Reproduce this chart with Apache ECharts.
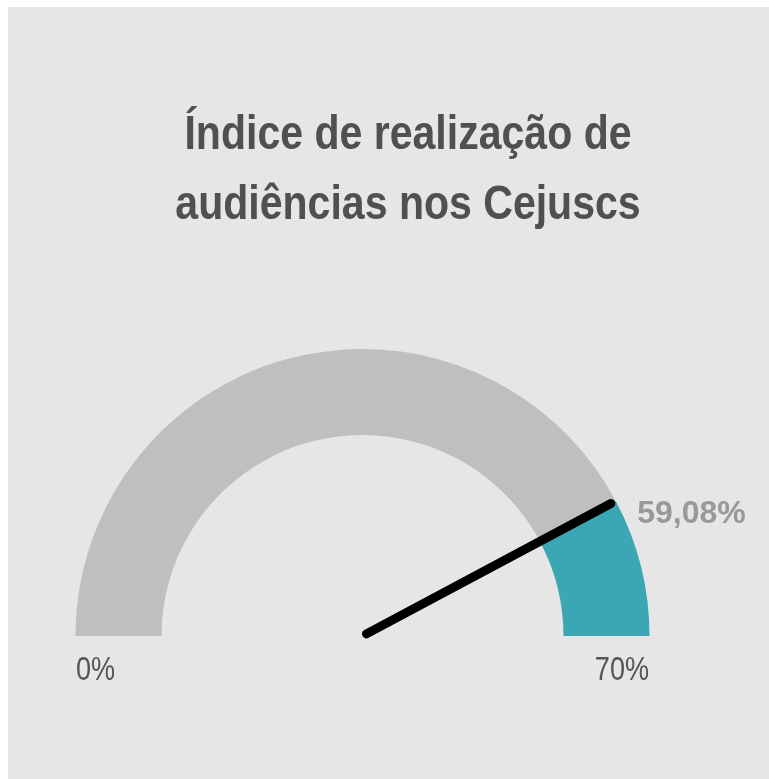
<!DOCTYPE html>
<html>
<head>
<meta charset="utf-8">
<script src="https://cdn.jsdelivr.net/npm/echarts@6/dist/echarts.min.js"></script>
<style>
  html, body { margin: 0; padding: 0; background: #ffffff; }
  #chart {
    position: absolute;
    left: 8px;
    top: 7px;
    width: 761px;
    height: 772px;
    background: #e6e6e6;
  }
</style>
</head>
<body>
<div id="chart"></div>
<script>
  const titleLines = ["Índice de realização de", "audiências nos Cejuscs"];
  const gaugeMin = 0;
  const gaugeMax = 70;
  const gaugeValue = 59.08;
  const minLabel = "0%";
  const maxLabel = "70%";

  // no narrow font installed, so the texts are squeezed a bit with scaleX
  const font = "'Liberation Sans', Arial, sans-serif";
  const fmt = (v) => v.toFixed(2).replace(".", ",") + "%";

  const chart = echarts.init(document.getElementById("chart"));

  const option = {
    backgroundColor: "#e6e6e6",
    graphic: [
      {
        type: "text",
        x: 400,
        y: 94,
        scaleX: 0.855,
        style: {
          text: titleLines.join("\n"),
          fill: "#505050",
          font: "bold 48px " + font,
          lineHeight: 70,
          align: "center",
          verticalAlign: "top",
        },
      },
      {
        type: "text",
        x: 68,
        y: 664,
        scaleX: 0.82,
        style: {
          text: minLabel,
          fill: "#555555",
          font: "33px " + font,
          align: "left",
          verticalAlign: "middle",
        },
      },
      {
        type: "text",
        x: 641,
        y: 664,
        scaleX: 0.82,
        style: {
          text: maxLabel,
          fill: "#555555",
          font: "33px " + font,
          align: "right",
          verticalAlign: "middle",
        },
      },
    ],
    series: [
      {
        type: "gauge",
        center: [354.5, 629],
        radius: 287,
        startAngle: 180,
        endAngle: 0,
        min: gaugeMin,
        max: gaugeMax,
        animation: false,
        axisLine: {
          lineStyle: {
            width: 86,
            color: [
              [(gaugeValue - gaugeMin) / (gaugeMax - gaugeMin), "#bfbfbf"],
              [1, "#3ba7b5"],
            ],
          },
        },
        axisTick: { show: false },
        splitLine: { show: false },
        axisLabel: { show: false },
        pointer: {
          icon: "path://M0,5 A5,5 0 0 1 10,5 L10,315 A5,5 0 0 1 0,315 Z",
          length: 286,
          width: 9,
          offsetCenter: [0, 0],
          itemStyle: { color: "#000000" },
        },
        anchor: { show: false },
        title: { show: false },
        detail: {
          offsetCenter: [329, -122],
          formatter: fmt,
          color: "#999999",
          fontFamily: font,
          fontWeight: "bold",
          fontSize: 32,
        },
        data: [{ value: gaugeValue }],
      },
    ],
  };

  chart.setOption(option);
</script>
</body>
</html>
